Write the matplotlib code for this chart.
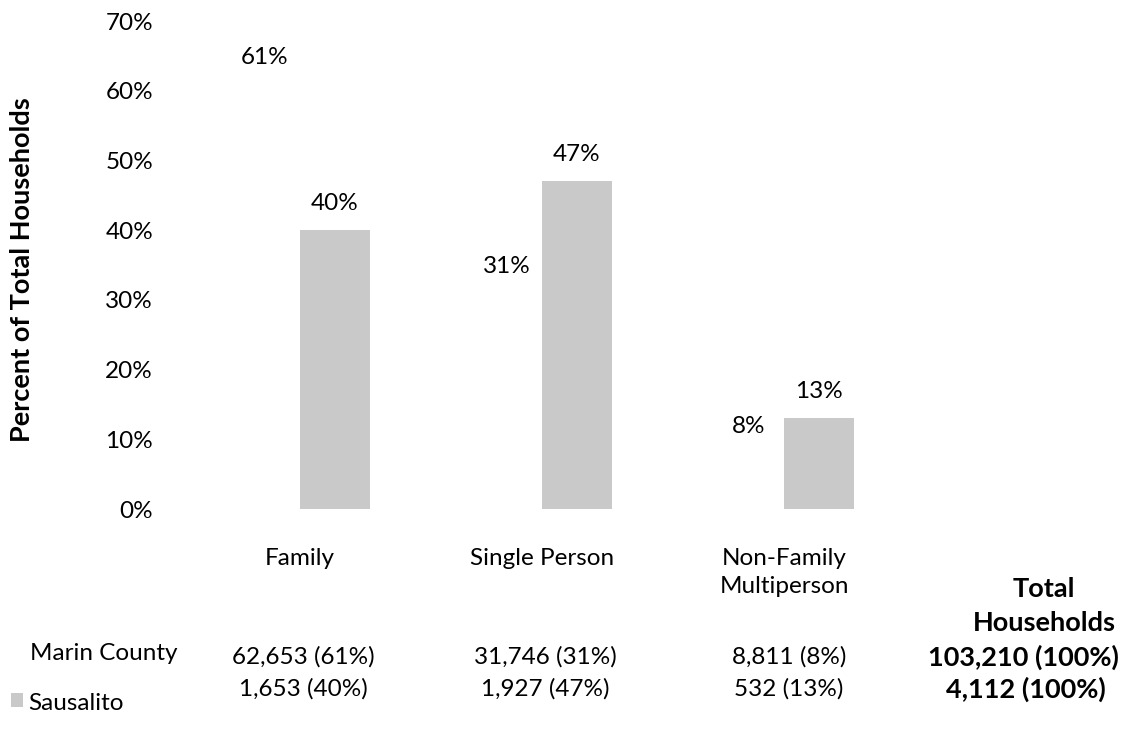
import matplotlib
matplotlib.use("Agg")
import matplotlib.pyplot as plt
from matplotlib.patches import Rectangle

plt.rcParams['font.family'] = ['Lato', 'DejaVu Sans']

categories = ["Family", "Single Person", "Non-Family\nMultiperson"]
marin_pct = [61, 31, 8]
saus_pct = [40, 47, 13]
marin_counts = ["62,653 (61%)", "31,746 (31%)", "8,811 (8%)"]
saus_counts = ["1,653 (40%)", "1,927 (47%)", "532 (13%)"]
marin_total = "103,210 (100%)"
saus_total = "4,112 (100%)"
yticks = [0, 10, 20, 30, 40, 50, 60, 70]

W, H = 1124, 737
fig = plt.figure(figsize=(W / 100, H / 100), dpi=100)

def fx(x):
    return x / W

def fy(y):
    return 1 - y / H

# axes: x data 0 -> 300px, 1 unit = 242px ; y 0 -> 509px, 70 -> 21px
left_px, right_px = 167, 1099
ax = fig.add_axes([fx(left_px), fy(509), (right_px - left_px) / W, (509 - 21) / H])
ax.set_xlim((left_px - 300) / 242, (right_px - 300) / 242)
ax.set_ylim(0, 70)

xs = list(range(len(categories)))
bw = 70 / 242
gray = "#C9C9C9"
txt = "#000000"
ax.bar([x - bw / 2 for x in xs], marin_pct, width=bw, color="white")
ax.bar([x + bw / 2 for x in xs], saus_pct, width=bw, color=gray)

fs = 17.5
fsb = 19.5
for x, v in zip(xs, marin_pct):
    ax.annotate(f"{v}%", (x - bw / 2, v), xytext=(0, 19), textcoords="offset points",
                ha="center", va="center", fontsize=fs, color=txt)
for x, v in zip(xs, saus_pct):
    ax.annotate(f"{v}%", (x + bw / 2, v), xytext=(0, 19), textcoords="offset points",
                ha="center", va="center", fontsize=fs, color=txt)

ax.set_yticks(yticks)
ax.set_yticklabels([f"{t}%" for t in yticks], fontsize=fs, color=txt)
ax.tick_params(axis="y", length=0, pad=10)
ax.set_xticks([])
for s in ax.spines.values():
    s.set_visible(False)

# category labels
for x, c in zip(xs, categories):
    fig.text(fx(300 + 242 * x), fy(548), c, ha="center", va="top", fontsize=fs,
             color=txt, linespacing=1.42)

fig.text(fx(1044), fy(606), "Total\nHouseholds", ha="center", va="center", fontsize=fsb,
         fontweight="bold", color=txt, linespacing=1.5)

# y label
fig.text(fx(22), fy(270), "Percent of Total Households", rotation=90, ha="center",
         va="center", fontsize=fsb, fontweight="bold", color=txt)

# table rows
fig.text(fx(104), fy(654), "Marin County", ha="center", va="center", fontsize=fs, color=txt)
fig.text(fx(28), fy(703), "Sausalito", ha="left", va="center", fontsize=fs, color=txt)
fig.patches.append(Rectangle((fx(11), fy(707)), 12 / W, 14 / H, transform=fig.transFigure,
                             facecolor=gray, edgecolor="none"))

col_x = [303, 545, 789]
for cx, m, s in zip(col_x, marin_counts, saus_counts):
    fig.text(fx(cx), fy(657), m, ha="center", va="center", fontsize=fs, color=txt)
    fig.text(fx(cx), fy(689), s, ha="center", va="center", fontsize=fs, color=txt)
fig.text(fx(1023), fy(657), marin_total, ha="center", va="center", fontsize=fsb,
         fontweight="bold", color=txt)
fig.text(fx(1026), fy(689), saus_total, ha="center", va="center", fontsize=fsb,
         fontweight="bold", color=txt)

fig.savefig("out.png", dpi=100, facecolor="white")
